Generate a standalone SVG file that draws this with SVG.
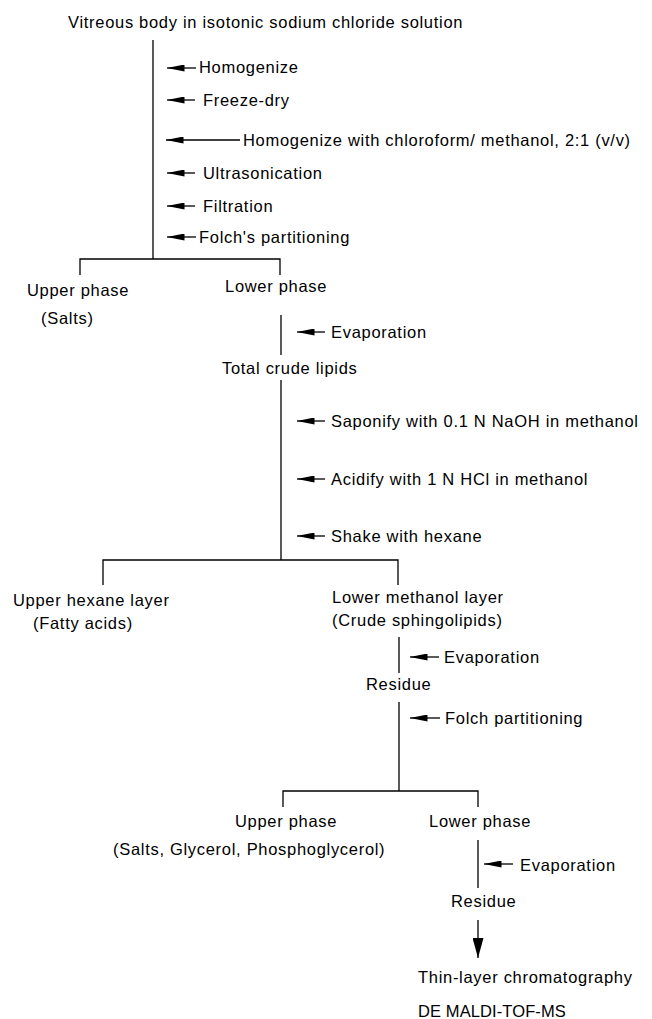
<svg xmlns="http://www.w3.org/2000/svg" width="652" height="1019" viewBox="0 0 652 1019">
<style>
  text { font-family: "Liberation Sans", Arial, sans-serif; font-size: 16.5px; letter-spacing: 0.7px; fill: #000; }
  .ln { stroke: #000; stroke-width: 1.3; fill: none; }
  .ar { stroke: #000; stroke-width: 1.3; fill: none; marker-start: url(#ah); }
</style>
<defs>
  <marker id="ah" viewBox="0 0 18 7" refX="0.5" refY="3.5" markerWidth="18" markerHeight="7" markerUnits="userSpaceOnUse" orient="auto">
    <path d="M0,3.5 L18,0 L18,7 Z" fill="#000"/>
  </marker>
  <marker id="ahd" viewBox="0 0 20 11" refX="20" refY="5.5" markerWidth="20" markerHeight="11" markerUnits="userSpaceOnUse" orient="auto">
    <path d="M0,0 L20,5.5 L0,11 Z" fill="#000"/>
  </marker>
</defs>
<rect width="652" height="1019" fill="#fff"/>

<g id="connectors">
  <line class="ln" x1="153" y1="40" x2="153" y2="259"/>
  <polyline class="ln" points="80,275 80,259 280,259 280,275"/>
  <line class="ar" x1="167" y1="68" x2="196" y2="68"/>
  <line class="ar" x1="167" y1="100" x2="195" y2="100"/>
  <line class="ar" x1="166" y1="140" x2="240" y2="140"/>
  <line class="ar" x1="167" y1="173" x2="195" y2="173"/>
  <line class="ar" x1="167" y1="206" x2="195" y2="206"/>
  <line class="ar" x1="167" y1="237" x2="196" y2="237"/>
  <line class="ln" x1="281" y1="315" x2="281" y2="355"/>
  <line class="ar" x1="297" y1="332" x2="325" y2="332"/>
  <line class="ln" x1="281" y1="380" x2="281" y2="560"/>
  <line class="ar" x1="297" y1="421" x2="325" y2="421"/>
  <line class="ar" x1="297" y1="479" x2="325" y2="479"/>
  <line class="ar" x1="297" y1="536" x2="325" y2="536"/>
  <polyline class="ln" points="103,585 103,560 398,560 398,585"/>
  <line class="ln" x1="399" y1="637" x2="399" y2="673"/>
  <line class="ar" x1="410" y1="657" x2="439" y2="657"/>
  <line class="ln" x1="399" y1="702" x2="399" y2="791"/>
  <line class="ar" x1="410" y1="718" x2="440" y2="718"/>
  <polyline class="ln" points="283,807 283,791 478,791 478,807"/>
  <line class="ln" x1="478" y1="840" x2="478" y2="888"/>
  <line class="ar" x1="484" y1="864" x2="513" y2="864"/>
  <line class="ln" x1="478" y1="920" x2="478" y2="958" style="marker-end:url(#ahd)"/>
</g>

<g id="n-start"><text x="68" y="28">Vitreous body in isotonic sodium chloride solution</text></g>
<g id="s-homogenize"><text x="199" y="73">Homogenize</text></g>
<g id="s-freeze"><text x="203" y="106">Freeze-dry</text></g>
<g id="s-chcl"><text x="243" y="146">Homogenize with chloroform/ methanol, 2:1 (v/v)</text></g>
<g id="s-ultra"><text x="203" y="179">Ultrasonication</text></g>
<g id="s-filt"><text x="203" y="212">Filtration</text></g>
<g id="s-folch1"><text x="199" y="243">Folch's partitioning</text></g>

<g id="n-upper1"><text x="27" y="296">Upper phase</text><text x="41" y="324">(Salts)</text></g>
<g id="n-lower1"><text x="225" y="292">Lower phase</text></g>
<g id="s-evap1"><text x="331" y="338">Evaporation</text></g>
<g id="n-total"><text x="222" y="374">Total crude lipids</text></g>
<g id="s-sapon"><text x="331" y="427">Saponify with 0.1 N NaOH in methanol</text></g>
<g id="s-acid"><text x="331" y="485">Acidify with 1 N HCl in methanol</text></g>
<g id="s-shake"><text x="331" y="542">Shake with hexane</text></g>

<g id="n-hexane"><text x="13" y="606">Upper hexane layer</text><text x="33" y="629">(Fatty acids)</text></g>
<g id="n-methanol"><text x="332" y="603">Lower methanol layer</text><text x="332" y="626">(Crude sphingolipids)</text></g>
<g id="s-evap2"><text x="444" y="663">Evaporation</text></g>
<g id="n-residue1"><text x="366" y="690">Residue</text></g>
<g id="s-folch2"><text x="445" y="724">Folch partitioning</text></g>

<g id="n-upper2"><text x="235" y="827">Upper phase</text><text x="113" y="855">(Salts, Glycerol, Phosphoglycerol)</text></g>
<g id="n-lower2"><text x="429" y="827">Lower phase</text></g>
<g id="s-evap3"><text x="520" y="871">Evaporation</text></g>
<g id="n-residue2"><text x="451" y="907">Residue</text></g>
<g id="n-end"><text x="418" y="983">Thin-layer chromatography</text><text x="418" y="1017" style="letter-spacing:0.1px">DE MALDI-TOF-MS</text></g>
</svg>
